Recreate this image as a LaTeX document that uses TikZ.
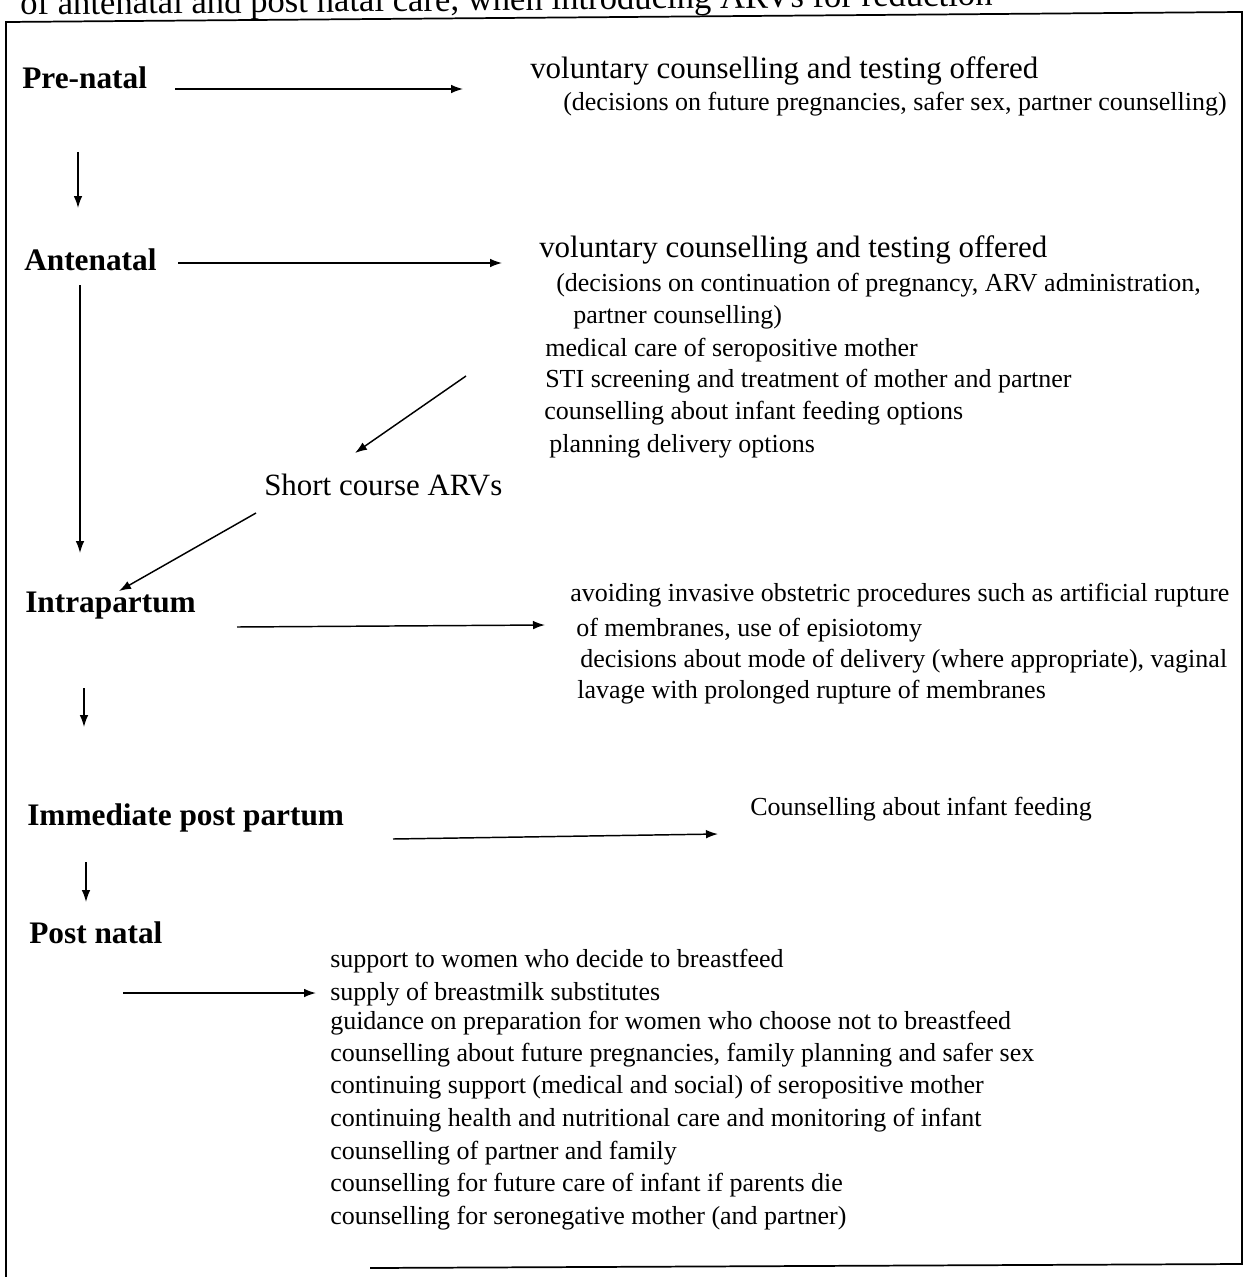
\documentclass[tikz,border=0pt]{standalone}
\usepackage{fontspec}
\setmainfont{Liberation Serif}
\usetikzlibrary{arrows.meta}

\tikzset{
  stage/.style={anchor=base west, inner sep=0pt, font=\fontsize{23.5}{28}\selectfont\bfseries},
  head/.style={anchor=base west, inner sep=0pt, font=\fontsize{23.2}{28}\selectfont},
  care/.style={anchor=base west, inner sep=0pt, font=\fontsize{19.5}{24}\selectfont},
  flow/.style={-{Latex[length=9pt,width=6.5pt]}, line width=1.1pt},
}

\begin{document}
\begin{tikzpicture}[x=0.75pt, y=-0.75pt]
    \useasboundingbox (0,0) rectangle (1247,1277);
    \clip (0,0) rectangle (1247,1277);

    %% caption line cut off at the top
    \node[head, font=\fontsize{26}{30}\selectfont, rotate=0.55] (cap) at (20,15) {of antenatal and post natal care, when introducing ARVs for reduction};

    %% frame
    \draw[line width=1.3pt] (370,1268) -- (1242,1264) -- (1242,12) -- (6,22) -- (6,1277);

    %% stages
    \node[stage] (pre)   at (22,89)  {Pre-natal};
    \node[stage] (ante)  at (24,270) {Antenatal};
    \node[stage] (intra) at (25,612) {Intrapartum};
    \node[stage] (imm)   at (27,825) {Immediate post partum};
    \node[stage] (post)  at (29,943) {Post natal};

    %% pre-natal care
    \node[head] (pre1) at (530,79)  {voluntary counselling and testing offered};
    \node[care] (pre2) at (563,111) {(decisions on future pregnancies, safer sex, partner counselling)};

    %% antenatal care
    \node[head] (ante1) at (539,257) {voluntary counselling and testing offered};
    \node[care] (ante2) at (556,291) {(decisions on continuation of pregnancy, ARV administration,};
    \node[care] (ante3) at (573,323) {partner counselling)};
    \node[care] (ante4) at (545,356) {medical care of seropositive mother};
    \node[care] (ante5) at (545,387) {STI screening and treatment of mother and partner};
    \node[care] (ante6) at (544,419) {counselling about infant feeding options};
    \node[care] (ante7) at (549,452) {planning delivery options};

    \node[head] (arv) at (264,495) {Short course ARVs};

    %% intrapartum care
    \node[care] (intra1) at (570,601) {avoiding invasive obstetric procedures such as artificial rupture};
    \node[care] (intra2) at (576,636) {of membranes, use of episiotomy};
    \node[care] (intra3) at (580,667) {decisions about mode of delivery (where appropriate), vaginal};
    \node[care] (intra4) at (577,698) {lavage with prolonged rupture of membranes};

    %% immediate post partum care
    \node[care] (imm1) at (750,815) {Counselling about infant feeding};

    %% post natal care
    \node[care] (post1) at (330,967)  {support to women who decide to breastfeed};
    \node[care] (post2) at (330,1000) {supply of breastmilk substitutes};
    \node[care] (post3) at (330,1029) {guidance on preparation for women who choose not to breastfeed};
    \node[care] (post4) at (330,1061) {counselling about future pregnancies, family planning and safer sex};
    \node[care] (post5) at (330,1093) {continuing support (medical and social) of seropositive mother};
    \node[care] (post6) at (330,1126) {continuing health and nutritional care and monitoring of infant};
    \node[care] (post7) at (330,1159) {counselling of partner and family};
    \node[care] (post8) at (330,1191) {counselling for future care of infant if parents die};
    \node[care] (post9) at (330,1224) {counselling for seronegative mother (and partner)};

    %% arrow ends
    \coordinate (preA)   at (175,89);   \coordinate (preB)   at (463,89);
    \coordinate (preC)   at (78,152);   \coordinate (preD)   at (78,208);
    \coordinate (anteA)  at (178,263);  \coordinate (anteB)  at (502,263);
    \coordinate (anteC)  at (80,285);   \coordinate (anteD)  at (80,553);
    \coordinate (anteE)  at (466,376);  \coordinate (arvA)   at (355,453);
    \coordinate (arvB)   at (256,513);  \coordinate (intraA) at (119,591);
    \coordinate (intraB) at (237,627);  \coordinate (intraC) at (545,625);
    \coordinate (intraD) at (84,688);   \coordinate (intraE) at (84,727);
    \coordinate (immA)   at (393,839);  \coordinate (immB)   at (718,834);
    \coordinate (immC)   at (86,862);   \coordinate (immD)   at (86,902);
    \coordinate (postA)  at (123,993);  \coordinate (postB)  at (316,993);

    %% arrows
    \draw[flow] (preA) -- (preB);
    \draw[flow] (preC) -- (preD);
    \draw[flow] (anteA) -- (anteB);
    \draw[flow] (anteC) -- (anteD);
    \draw[flow] (anteE) -- (arvA);
    \draw[flow] (arvB) -- (intraA);
    \draw[flow] (intraB) -- (intraC);
    \draw[flow] (intraD) -- (intraE);
    \draw[flow] (immA) -- (immB);
    \draw[flow] (immC) -- (immD);
    \draw[flow] (postA) -- (postB);
\end{tikzpicture}
\end{document}
